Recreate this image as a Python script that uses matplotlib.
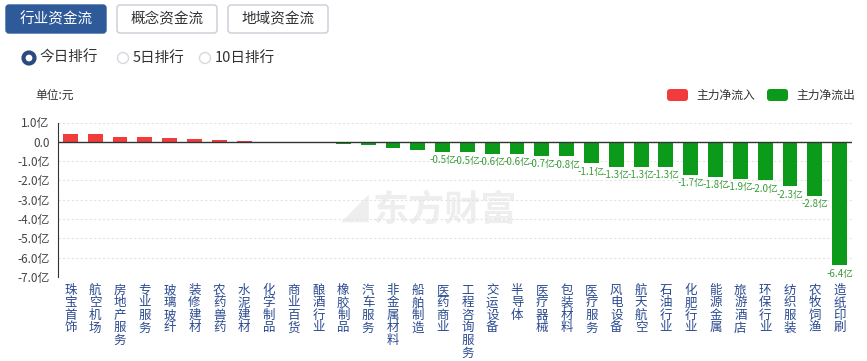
import numpy as np
import matplotlib
matplotlib.use('Agg')
import matplotlib.pyplot as plt
from matplotlib.patches import FancyBboxPatch, Circle

plt.rcParams['font.family'] = ['Noto Sans CJK SC', 'DejaVu Sans']

# data (unit: 亿元)
industries = ['珠宝首饰', '航空机场', '房地产服务', '专业服务', '玻璃玻纤', '装修建材', '农药兽药',
              '水泥建材', '化学制品', '商业百货', '酿酒行业', '橡胶制品', '汽车服务', '非金属材料',
              '船舶制造', '医药商业', '工程咨询服务', '交运设备', '半导体', '医疗器械', '包装材料',
              '医疗服务', '风电设备', '航天航空', '石油行业', '化肥行业', '能源金属', '旅游酒店',
              '环保行业', '纺织服装', '农牧饲渔', '造纸印刷']
net_flow = [0.41, 0.40, 0.26, 0.25, 0.19, 0.12, 0.07, 0.05, 0.01, -0.02, -0.07, -0.12, -0.15,
            -0.30, -0.40, -0.52, -0.54, -0.61, -0.63, -0.72, -0.76, -1.1, -1.3, -1.3, -1.3,
            -1.7, -1.8, -1.9, -2.0, -2.3, -2.8, -6.4]
yticks = [1, 0, -1, -2, -3, -4, -5, -6, -7]
ytick_labels = ['1.0亿', '0.0', '-1.0亿', '-2.0亿', '-3.0亿', '-4.0亿', '-5.0亿', '-6.0亿', '-7.0亿']
tabs = ['行业资金流', '概念资金流', '地域资金流']
ranks = ['今日排行', '5日排行', '10日排行']

RED = '#f23c3c'
GREEN = '#0c9a1a'
W, H = 867, 361

fig = plt.figure(figsize=(W / 100, H / 100), dpi=100)

# overlay in pixel coordinates for the page widgets
bg = fig.add_axes([0, 0, 1, 1], zorder=0)
bg.set_xlim(0, W)
bg.set_ylim(H, 0)
bg.axis('off')

tab_x = [6, 117, 228]
for i, (name, x0) in enumerate(zip(tabs, tab_x)):
    active = i == 0
    bg.add_patch(FancyBboxPatch((x0, 5), 100, 28, boxstyle='round,pad=0,rounding_size=3',
                                facecolor='#2f5a9a' if active else 'white',
                                edgecolor='#2f5a9a' if active else '#c8ccd4', lw=1))
    bg.text(x0 + 50, 19.5, name, ha='center', va='center', fontsize=10.5,
            color='white' if active else '#333333')

radio_x = [29, 123, 205]
for i, (name, cx) in enumerate(zip(ranks, radio_x)):
    if i == 0:
        bg.add_patch(Circle((cx, 58), 5.5, facecolor='white', edgecolor='#2b4a80', lw=3))
    else:
        bg.add_patch(Circle((cx, 58), 5.5, facecolor='white', edgecolor='#d6d9de', lw=1))
    bg.text(cx + 10, 58, name, ha='left', va='center', fontsize=10.5, color='#333333')

bg.text(35, 95, '单位:元', ha='left', va='center', fontsize=8.5, color='#333333')

# legend
bg.add_patch(FancyBboxPatch((667, 89), 21, 12, boxstyle='round,pad=0,rounding_size=3',
                            facecolor=RED, edgecolor='none'))
bg.text(696, 95, '主力净流入', ha='left', va='center', fontsize=8.5, color='#333333')
bg.add_patch(FancyBboxPatch((767, 89), 21, 12, boxstyle='round,pad=0,rounding_size=3',
                            facecolor=GREEN, edgecolor='none'))
bg.text(796, 95, '主力净流出', ha='left', va='center', fontsize=8.5, color='#333333')

# watermark
bg.text(445, 210, '东方财富', ha='center', va='center', fontsize=26, fontweight='bold',
        color='#eeeeee', zorder=0.5)
bg.text(355, 211, '◢', ha='center', va='center', fontsize=20, color='#eeeeee', zorder=0.5)

# main chart
ax = fig.add_axes([58 / W, 1 - 277 / H, (852 - 58) / W, (277 - 122.5) / H], zorder=1)
ax.patch.set_alpha(0)
x = np.arange(len(industries))
colors = [RED if v >= 0 else GREEN for v in net_flow]
ax.bar(x, net_flow, width=0.6, color=colors, zorder=2)
ax.set_xlim(-0.5, len(industries) - 0.5)
ax.set_ylim(-7, 1)
ax.set_yticks(yticks)
ax.set_yticklabels(ytick_labels, fontsize=8.5, color='#444444')
ax.tick_params(axis='y', length=0, pad=6)
ax.set_xticks([])
for t in yticks:
    if t != 0:
        ax.axhline(t, color='#e3e3e3', lw=0.8, ls=(0, (2, 2)), zorder=1)
ax.axhline(0, color='#333333', lw=1, zorder=3)
for s in ['top', 'right', 'bottom']:
    ax.spines[s].set_visible(False)
ax.spines['left'].set_color('#333333')

for i, v in enumerate(net_flow):
    if v <= -0.45:
        ax.annotate(f'{v:.1f}亿', xy=(i, v), xytext=(0, -2.5), textcoords='offset points',
                    ha='center', va='top', fontsize=7, color='#3a9a3a')
    ax.annotate('\n'.join(industries[i]), xy=(i, 0), xycoords=('data', 'axes fraction'),
                xytext=(0, -5), textcoords='offset points', ha='center', va='top',
                fontsize=9, color='#2a4a90', linespacing=0.95)

fig.savefig('out.png', dpi=100)
